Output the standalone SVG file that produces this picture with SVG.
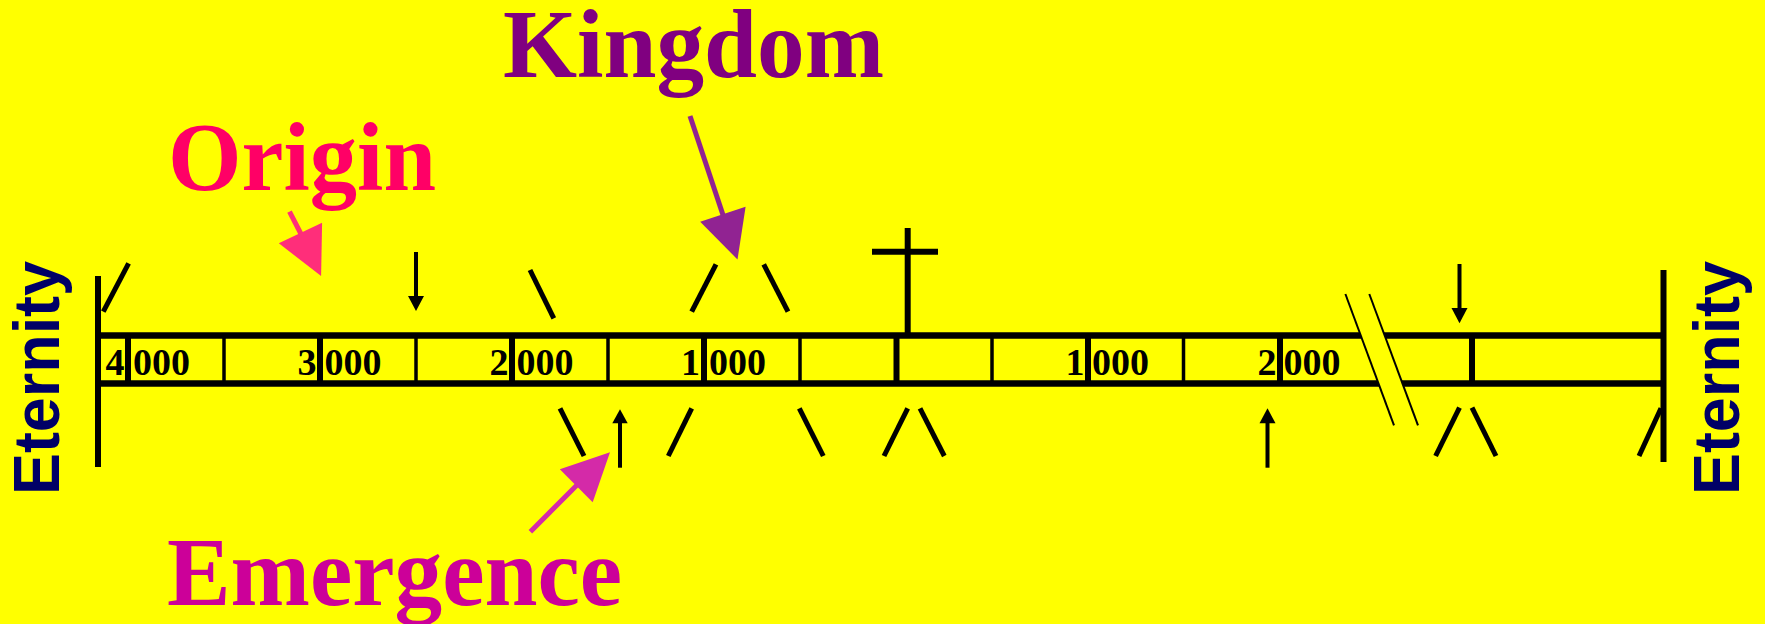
<svg xmlns="http://www.w3.org/2000/svg" width="1765" height="624" viewBox="0 0 1765 624">
<defs>
<style>
.bar{stroke:#000;stroke-width:6.5;fill:none}
.vt{stroke:#000;stroke-width:6;fill:none}
.thick{stroke:#000;stroke-width:6;fill:none}
.thin{stroke:#000;stroke-width:3.5;fill:none}
.mark{stroke:#000;stroke-width:5;fill:none}
.brk{stroke:#000;stroke-width:2;fill:none}
.arr{stroke:#000;stroke-width:4;fill:none}
.num{font-family:"Liberation Serif","Times New Roman",serif;font-weight:bold;font-size:38px;fill:#000}
.title{font-family:"Liberation Serif","Times New Roman",serif;font-weight:bold;font-size:98px}
.etern{font-family:"Liberation Sans",Arial,sans-serif;font-weight:bold;font-size:64px;fill:#000066}
</style>
</defs>
<rect width="1765" height="624" fill="#ffff00"/>
<g id="timeline">
<line class="bar" x1="98" y1="335.5" x2="1663" y2="335.5"/>
<line class="bar" x1="98" y1="383.5" x2="1663" y2="383.5"/>
<line class="vt" x1="98" y1="276" x2="98" y2="467"/>
<line class="vt" x1="1663.5" y1="270" x2="1663.5" y2="462"/>
</g>
<g id="dividers">
<line class="thick" x1="128" y1="335" x2="128" y2="384"/>
<line class="thin" x1="224" y1="335" x2="224" y2="384"/>
<line class="thick" x1="320" y1="335" x2="320" y2="384"/>
<line class="thin" x1="416" y1="335" x2="416" y2="384"/>
<line class="thick" x1="512" y1="335" x2="512" y2="384"/>
<line class="thin" x1="608" y1="335" x2="608" y2="384"/>
<line class="thick" x1="704" y1="335" x2="704" y2="384"/>
<line class="thin" x1="800" y1="335" x2="800" y2="384"/>
<line class="thick" x1="896.5" y1="335" x2="896.5" y2="384"/>
<line class="thin" x1="992" y1="335" x2="992" y2="384"/>
<line class="thick" x1="1088" y1="335" x2="1088" y2="384"/>
<line class="thin" x1="1183.5" y1="335" x2="1183.5" y2="384"/>
<line class="thick" x1="1280" y1="335" x2="1280" y2="384"/>
<line class="thick" x1="1472" y1="335" x2="1472" y2="384"/>
</g>
<g id="break">
<polygon points="1345.4,294 1369.3,294 1418,425.3 1394,425.3" fill="#ffff00"/>
<line class="brk" x1="1345.4" y1="294" x2="1394" y2="425.3"/>
<line class="brk" x1="1369.3" y1="294" x2="1418" y2="425.3"/>
</g>
<g id="cross">
<line class="thick" x1="907.7" y1="228" x2="907.7" y2="334"/>
<line class="thick" x1="872" y1="251.7" x2="938" y2="251.7"/>
</g>
<g id="year-labels">
<text class="num" x="124.5" y="375" text-anchor="end">4</text><text class="num" x="133" y="375">000</text>
<text class="num" x="316.5" y="375" text-anchor="end">3</text><text class="num" x="324.5" y="375">000</text>
<text class="num" x="508.5" y="375" text-anchor="end">2</text><text class="num" x="516.5" y="375">000</text>
<text class="num" x="700" y="375" text-anchor="end">1</text><text class="num" x="709" y="375">000</text>
<text class="num" x="1084.5" y="375" text-anchor="end">1</text><text class="num" x="1092" y="375">000</text>
<text class="num" x="1276.5" y="375" text-anchor="end">2</text><text class="num" x="1283.5" y="375">000</text>
</g>
<g id="marks">
<line class="mark" x1="103.3" y1="311.7" x2="128.6" y2="263.3"/>
<line class="mark" x1="530" y1="270" x2="553.8" y2="318.3"/>
<line class="mark" x1="716" y1="264.3" x2="691.7" y2="311.7"/>
<line class="mark" x1="763.7" y1="264.3" x2="788" y2="311.7"/>
<line class="mark" x1="560" y1="408.3" x2="584" y2="456"/>
<line class="mark" x1="691.7" y1="408.3" x2="668.3" y2="456"/>
<line class="mark" x1="799.3" y1="408.3" x2="823.3" y2="456"/>
<line class="mark" x1="907.7" y1="408.3" x2="884" y2="456"/>
<line class="mark" x1="920" y1="408.3" x2="944.3" y2="456"/>
<line class="mark" x1="1459.5" y1="407.7" x2="1435.6" y2="456"/>
<line class="mark" x1="1472" y1="407.7" x2="1496" y2="456"/>
<line class="mark" x1="1661" y1="408.3" x2="1639" y2="456"/>
</g>
<g id="connectors">
<line class="arr" x1="416" y1="252" x2="416" y2="297"/>
<polygon points="408,296 424,296 416,311"/>
<line class="arr" x1="1459.5" y1="264" x2="1459.5" y2="309"/>
<polygon points="1451.5,308 1467.5,308 1459.5,323.3"/>
<line class="arr" x1="620" y1="422" x2="620" y2="467.7"/>
<polygon points="612.3,423.3 627.7,423.3 620,409.3"/>
<line class="arr" x1="1267.5" y1="422" x2="1267.5" y2="467.7"/>
<polygon points="1259.5,423.3 1275.5,423.3 1267.5,408.3"/>
<line x1="289.5" y1="211.7" x2="301" y2="234" stroke="#ff2e7a" stroke-width="5"/>
<polygon points="278.8,243.3 322.1,222.7 321.1,276" fill="#ff2e7a"/>
<line x1="690" y1="116" x2="723" y2="215" stroke="#912392" stroke-width="5"/>
<polygon points="700.2,221.7 745.6,206.7 737.5,259.5" fill="#912392"/>
<line x1="530.4" y1="531.7" x2="577" y2="485" stroke="#d42aa8" stroke-width="5"/>
<polygon points="559.8,469.3 610,452.3 592.7,502.3" fill="#d42aa8"/>
</g>
<g id="titles">
<text class="title" x="168" y="190" fill="#ff0066" textLength="268" lengthAdjust="spacingAndGlyphs">Origin</text>
<text class="title" x="503" y="77" fill="#800080" textLength="381" lengthAdjust="spacingAndGlyphs">Kingdom</text>
<text class="title" x="167" y="605" fill="#cc0099" textLength="455" lengthAdjust="spacingAndGlyphs">Emergence</text>
</g>
<g id="eternity-left">
<text class="etern" transform="translate(59,495) rotate(-90)" textLength="234" lengthAdjust="spacingAndGlyphs">Eternity</text>
</g>
<g id="eternity-right">
<text class="etern" transform="translate(1739,495) rotate(-90)" textLength="234" lengthAdjust="spacingAndGlyphs">Eternity</text>
</g>
</svg>
